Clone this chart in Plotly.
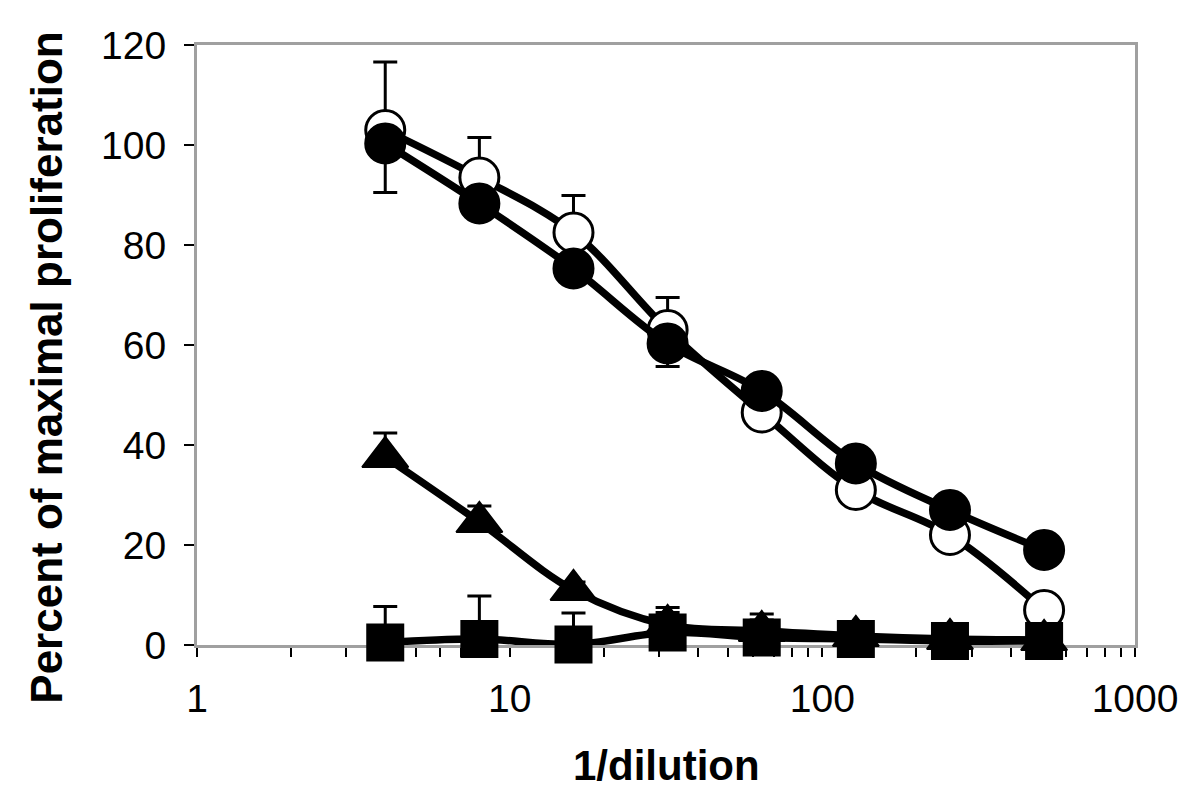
import plotly.graph_objects as go

dilution = [4, 8, 16, 32, 64, 128, 256, 512]

open_circle = [103, 93.5, 82.5, 63, 46.5, 31, 22, 7]
open_circle_err_plus = [13.6, 8, 7.4, 6.5, 3.5, 3, 2.5, 2]

filled_circle = [100.3, 88.3, 75.3, 60.3, 50.8, 36.3, 27, 19]
filled_circle_err_minus = [9.8, 3, 3, 4.6, 3, 2.5, 2.5, 2]

triangle = [37.6, 24.6, 11, 4, 2.8, 1.8, 1.2, 1.0]
triangle_err_plus = [4.8, 3.2, 1.6, 2.5, 2.2, 1, 0.8, 0.5]

square = [0.5, 1.2, 0.1, 2.5, 1.5, 1.2, 0.8, 0.8]
square_err = [7.2, 8.6, 6.3, 5, 4.7, 2, 1.5, 1.5]

y_ticks = [0, 20, 40, 60, 80, 100, 120]
x_ticks = [1, 10, 100, 1000]
x_tick_text = ["1", "10", "100", "1000"]
x_minor = [2, 3, 4, 5, 6, 7, 8, 9, 20, 30, 40, 50, 60, 70, 80, 90,
           200, 300, 400, 500, 600, 700, 800, 900]

x_title = "1/dilution"
y_title = "Percent of maximal proliferation"

LINE_W = 7.5
ERR = dict(color="black", thickness=3, width=12)

fig = go.Figure()

fig.add_trace(go.Scatter(
    x=dilution, y=open_circle, mode="lines+markers",
    line=dict(color="black", width=LINE_W, shape="spline", smoothing=1),
    marker=dict(symbol="circle", size=39, color="white", line=dict(color="black", width=3)),
    error_y=dict(type="data", symmetric=False, array=open_circle_err_plus,
                 arrayminus=[0] * len(dilution), **ERR),
    cliponaxis=False, showlegend=False))

fig.add_trace(go.Scatter(
    x=dilution, y=filled_circle, mode="lines+markers",
    line=dict(color="black", width=LINE_W, shape="spline", smoothing=1),
    marker=dict(symbol="circle", size=39, color="black", line=dict(color="black", width=3)),
    error_y=dict(type="data", symmetric=False, array=[0] * len(dilution),
                 arrayminus=filled_circle_err_minus, **ERR),
    cliponaxis=False, showlegend=False))

fig.add_trace(go.Scatter(
    x=dilution, y=triangle, mode="lines+markers",
    line=dict(color="black", width=LINE_W, shape="spline", smoothing=1),
    marker=dict(symbol="triangle-up", size=40, color="black", line=dict(color="black", width=2)),
    error_y=dict(type="data", symmetric=False, array=triangle_err_plus,
                 arrayminus=[0] * len(dilution), **ERR),
    cliponaxis=False, showlegend=False))

fig.add_trace(go.Scatter(
    x=dilution, y=square, mode="lines+markers",
    line=dict(color="black", width=LINE_W, shape="spline", smoothing=1),
    marker=dict(symbol="square", size=36, color="black", line=dict(color="black", width=2)),
    error_y=dict(type="data", symmetric=True, array=square_err, **ERR),
    cliponaxis=False, showlegend=False))

FONT = "Liberation Sans, Arial, sans-serif"

fig.update_layout(
    width=1192, height=800,
    margin=dict(l=189, r=65, t=37, b=163, autoexpand=False),
    paper_bgcolor="white", plot_bgcolor="white",
    font=dict(family=FONT, color="black"),
    xaxis=dict(
        type="log", range=[0, 3], automargin=False,
        tickmode="array", tickvals=x_ticks, ticktext=x_tick_text,
        ticks="outside", ticklen=9, tickwidth=1.5, tickcolor="black",
        minor=dict(tickmode="array", tickvals=x_minor, ticks="outside",
                   ticklen=9, tickwidth=1.5, tickcolor="black", showgrid=False),
        showgrid=False, zeroline=False,
        showline=True, linecolor="#a0a0a0", linewidth=3, mirror=True,
        tickfont=dict(size=39, family=FONT),
        ticklabelstandoff=8,
        layer="below traces",
    ),
    yaxis=dict(
        range=[0, 120], tickmode="array", tickvals=y_ticks, automargin=False,
        ticks="outside", ticklen=10, tickwidth=1.5, tickcolor="black",
        showgrid=False, zeroline=False,
        showline=True, linecolor="#a0a0a0", linewidth=3, mirror=True,
        tickfont=dict(size=39, family=FONT),
        ticklabelstandoff=10,
        layer="below traces",
    ),
    annotations=[
        dict(text="<b>" + x_title + "</b>", xref="paper", yref="paper",
             x=0.5, y=-0.2, xanchor="center", yanchor="middle",
             showarrow=False, font=dict(size=42, family=FONT, color="black")),
        dict(text="<b>" + y_title + "</b>", xref="paper", yref="paper",
             x=-0.16, y=0.462, xanchor="center", yanchor="middle", textangle=-90,
             showarrow=False, font=dict(size=44, family=FONT, color="black")),
    ],
)

fig.write_html("out.html")
